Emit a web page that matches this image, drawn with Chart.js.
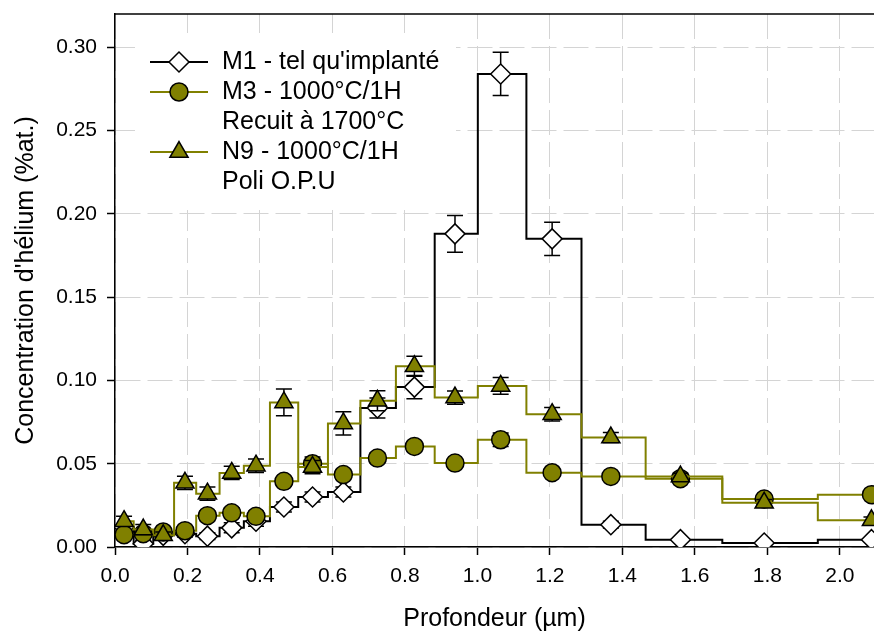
<!DOCTYPE html>
<html>
<head>
<meta charset="utf-8">
<script src="https://cdn.jsdelivr.net/npm/chart.js@4/dist/chart.umd.min.js"></script>
<style>
  html, body { margin: 0; padding: 0; background: #ffffff; }
  canvas { display: block; }
</style>
</head>
<body>
<canvas id="c" width="874" height="632"></canvas>
<script>
// ---- Data ----
const depth = [0.025, 0.078, 0.133, 0.193, 0.255, 0.322, 0.389, 0.466, 0.545, 0.630,
               0.724, 0.826, 0.938, 1.064, 1.206, 1.368, 1.560, 1.791, 2.087];

const m1    = [0.012, 0.002, 0.007, 0.008, 0.0065, 0.0115, 0.0155, 0.024, 0.030, 0.033,
               0.0835, 0.096, 0.188, 0.284, 0.185, 0.0134, 0.0044, 0.0024, 0.0044];
const m1Err = [0.002, 0.002, 0.002, 0.002, 0.002, 0.003, 0.003, 0.003, 0.003, 0.003,
               0.006, 0.007, 0.011, 0.013, 0.010, 0.002, 0.001, 0.001, 0.001];

const m3    = [0.0074, 0.008, 0.009, 0.0098, 0.0188, 0.0205, 0.0184, 0.0394, 0.050, 0.0435,
               0.0534, 0.0604, 0.0504, 0.0644, 0.0446, 0.0424, 0.041, 0.0288, 0.0314];
const m3Err = [0.002, 0.002, 0.002, 0.002, 0.003, 0.003, 0.003, 0.003, 0.004, 0.003,
               0.003, 0.003, 0.002, 0.004, 0.002, 0.002, 0.002, 0.002, 0.002];

const n9    = [0.0155, 0.0105, 0.007, 0.0385, 0.032, 0.0445, 0.0488, 0.0868, 0.048, 0.0742,
               0.0878, 0.1085, 0.0897, 0.0967, 0.0797, 0.0657, 0.0423, 0.0265, 0.016];
const n9Err = [0.003, 0.003, 0.002, 0.004, 0.004, 0.004, 0.004, 0.008, 0.004, 0.007,
               0.006, 0.006, 0.004, 0.005, 0.004, 0.003, 0.002, 0.002, 0.002];

const seriesLabels = [
  ["M1 - tel qu'implanté"],
  ["M3 - 1000°C/1H", "Recuit à 1700°C"],
  ["N9 - 1000°C/1H", "Poli O.P.U"]
];
const xTitle = "Profondeur (µm)";
const yTitle = "Concentration d'hélium (%at.)";

// ---- Styling ----
const FONT = "'Liberation Sans', Arial, Helvetica, sans-serif";
const OLIVE = '#808000';
Chart.defaults.font.family = FONT;
Chart.defaults.color = '#000';

const toPts = (ys) => depth.map((x, i) => ({ x: x, y: ys[i] }));
const errs = [m1Err, m3Err, n9Err];

// Error bars drawn through the y scale
const errorBars = {
  id: 'errorBars',
  beforeDatasetDraw(chart, args) {
    const err = errs[args.index];
    if (!err) return;
    const ds = chart.data.datasets[args.index];
    const ys = chart.scales.y;
    const ctx = chart.ctx;
    const a = chart.chartArea;
    ctx.save();
    ctx.beginPath();
    ctx.rect(a.left, a.top, a.right - a.left, a.bottom - a.top);
    ctx.clip();
    ctx.strokeStyle = '#000';
    ctx.lineWidth = 1.5;
    args.meta.data.forEach((pt, i) => {
      const v = ds.data[i].y;
      const yTop = ys.getPixelForValue(v + err[i]);
      const yBot = ys.getPixelForValue(v - err[i]);
      const x = pt.x;
      ctx.beginPath();
      ctx.moveTo(x, yTop); ctx.lineTo(x, yBot);
      ctx.moveTo(x - 8, yTop); ctx.lineTo(x + 8, yTop);
      ctx.moveTo(x - 8, yBot); ctx.lineTo(x + 8, yBot);
      ctx.stroke();
    });
    ctx.restore();
  }
};

// Top frame line
const frame = {
  id: 'frame',
  afterDatasetsDraw(chart) {
    const a = chart.chartArea, ctx = chart.ctx;
    ctx.save();
    ctx.strokeStyle = '#000';
    ctx.lineWidth = 1.5;
    ctx.beginPath();
    ctx.moveTo(a.left, a.top);
    ctx.lineTo(a.right, a.top);
    ctx.stroke();
    ctx.restore();
  }
};

// Legend box with multi-line labels
const legendBox = {
  id: 'legendBox',
  afterDatasetsDraw(chart) {
    const ctx = chart.ctx;
    ctx.save();
    ctx.fillStyle = '#fff';
    ctx.fillRect(135, 33, 321, 177);
    const rowH = 30;
    let y = 62;
    const lineX0 = 150, lineX1 = 208, mx = 179, tx = 222;
    ctx.font = '25px ' + FONT;
    ctx.textBaseline = 'middle';
    ctx.textAlign = 'left';
    chart.data.datasets.forEach((ds, i) => {
      ctx.strokeStyle = ds.borderColor;
      ctx.lineWidth = ds.borderWidth;
      ctx.beginPath();
      ctx.moveTo(lineX0, y); ctx.lineTo(lineX1, y);
      ctx.stroke();
      ctx.fillStyle = ds.pointBackgroundColor;
      ctx.strokeStyle = ds.pointBorderColor;
      ctx.lineWidth = ds.pointBorderWidth;
      Chart.helpers.drawPoint(ctx, { pointStyle: ds.pointStyle, radius: ds.pointRadius, rotation: 0, borderWidth: ds.pointBorderWidth }, mx, y);
      ctx.fillStyle = '#000';
      seriesLabels[i].forEach((t, k) => {
        ctx.fillText(t, tx, y + k * rowH);
      });
      y += rowH * seriesLabels[i].length;
    });
    ctx.restore();
  }
};

const common = { borderWidth: 2, stepped: 'middle', pointBorderColor: '#000', pointBorderWidth: 1.5, tension: 0 };

new Chart(document.getElementById('c'), {
  type: 'line',
  data: {
    datasets: [
      Object.assign({}, common, { label: seriesLabels[0].join(' '), data: toPts(m1), borderColor: '#000',
        pointStyle: 'rectRot', pointRadius: 10, pointBackgroundColor: '#fff', order: 3 }),
      Object.assign({}, common, { label: seriesLabels[1].join(' '), data: toPts(m3), borderColor: OLIVE,
        pointStyle: 'circle', pointRadius: 9, pointBackgroundColor: OLIVE, order: 2 }),
      Object.assign({}, common, { label: seriesLabels[2].join(' '), data: toPts(n9), borderColor: OLIVE,
        pointStyle: 'triangle', pointRadius: 10.5, pointBackgroundColor: OLIVE, order: 1 })
    ]
  },
  options: {
    responsive: false,
    animation: false,
    devicePixelRatio: 1,
    events: [],
    layout: { autoPadding: false, padding: { top: 14, right: 0, left: 0, bottom: 0 } },
    plugins: { legend: { display: false }, tooltip: { enabled: false } },
    scales: {
      x: {
        type: 'linear', min: 0, max: 2.094,
        ticks: { stepSize: 0.2, includeBounds: false, padding: 9, color: '#000',
                 font: { size: 21 }, maxRotation: 0,
                 callback: (v) => v.toFixed(1) },
        grid: { color: '#d4d4d4', lineWidth: 1, tickColor: '#000', tickLength: 8, tickWidth: 1.5 },
        border: { color: '#000', width: 1.5, dash: [25, 7] },
        title: { display: true, text: xTitle, color: '#000', font: { size: 25, lineHeight: 1 },
                 padding: { top: 0, bottom: 0 } },
        afterFit: (s) => { s.height = 85; s.paddingLeft = 0; s.paddingRight = 0; }
      },
      y: {
        min: 0, max: 0.32,
        ticks: { stepSize: 0.05, includeBounds: false, padding: 10, color: '#000',
                 font: { size: 21 }, callback: (v) => v.toFixed(2) },
        grid: { color: '#d4d4d4', lineWidth: 1, tickColor: '#000', tickLength: 8, tickWidth: 1.5 },
        border: { color: '#000', width: 1.5, dash: [25, 7] },
        title: { display: true, text: yTitle, color: '#000', font: { size: 25, lineHeight: 1 },
                 padding: { top: 14, bottom: 0 } },
        afterFit: (s) => { s.width = 115; s.paddingTop = 0; s.paddingBottom = 0; }
      }
    }
  },
  plugins: [errorBars, legendBox, frame]
});
</script>
</body>
</html>
